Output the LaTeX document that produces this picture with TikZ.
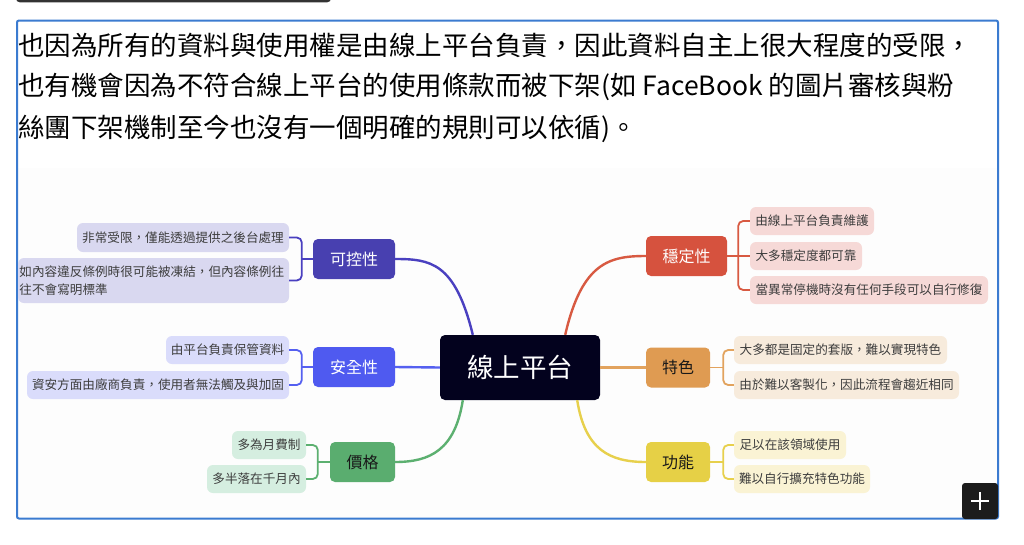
\documentclass[tikz,border=0pt]{standalone}
\usepackage{fontspec}
\setmainfont{Noto Sans CJK TC}
\usetikzlibrary{calc}
\definecolor{frameblue}{HTML}{3B7BD0}
\definecolor{centerfill}{HTML}{03021E}
\definecolor{leaftext}{HTML}{3D3D3D}
\definecolor{kkfill}{HTML}{4840B0}\definecolor{kkline}{HTML}{4A40C0}\definecolor{kkleaf}{HTML}{D9D8F0}
\definecolor{aqfill}{HTML}{4F5AF0}\definecolor{aqline}{HTML}{5560F0}\definecolor{aqleaf}{HTML}{DADCFB}
\definecolor{prfill}{HTML}{5AAD6F}\definecolor{prline}{HTML}{5CB070}\definecolor{prleaf}{HTML}{D5EEE0}
\definecolor{stfill}{HTML}{D6523E}\definecolor{stline}{HTML}{D85A42}\definecolor{stleaf}{HTML}{F6D9D7}
\definecolor{tsfill}{HTML}{DF9B52}\definecolor{tsline}{HTML}{E2A35E}\definecolor{tsleaf}{HTML}{F7EBDC}
\definecolor{fnfill}{HTML}{E6D046}\definecolor{fnline}{HTML}{E7D04C}\definecolor{fnleaf}{HTML}{FAF3D4}
\begin{document}
\begin{tikzpicture}[x=1pt,y=-1pt,
  para/.style={anchor=west,inner sep=0pt,text=black,font=\fontsize{26.5}{30}\selectfont},
  mainnode/.style={rounded corners=5pt,inner sep=0pt,minimum height=40pt,font=\fontsize{16}{18}\selectfont},
  leaf/.style={rounded corners=6pt,inner sep=0pt,minimum height=28pt,text=leaftext,font=\fontsize{12.6}{18}\selectfont},
  branch/.style={line width=2.4pt},
  brk/.style={line width=1.8pt,rounded corners=5pt}]
\useasboundingbox (0,0) rectangle (1024,544);
\fill[white] (0,0) rectangle (1024,544);
% top bar remnant
\draw[line width=2.2pt,black!80,rounded corners=3pt] (17,-8) -- (17,1.2) -- (330,1.2) -- (330,-8);
% mindmap background
\fill[black!0.8] (18,168) rectangle (997,517);
% frame
\draw[frameblue,line width=2pt,rounded corners=2pt] (17,20.5) rectangle (998,518.5);
% paragraph
\node[para] (l1) at (18,45) {也因為所有的資料與使用權是由線上平台負責，因此資料自主上很大程度的受限，};
\node[para] (l2) at (18,86.5) {也有機會因為不符合線上平台的使用條款而被下架(如 FaceBook 的圖片審核與粉};
\node[para] (l3) at (18,129) {絲團下架機制至今也沒有一個明確的規則可以依循)。};
% center
\node[rounded corners=5pt,fill=centerfill,text=white,minimum width=160pt,minimum height=65pt,inner sep=0pt,font=\fontsize{26.5}{30}\selectfont] (c) at (520,367.5) {線上平台};
% main nodes
\node[mainnode,fill=kkfill,text=white,minimum width=82pt] (kk) at (354,259) {可控性};
\node[mainnode,fill=aqfill,text=white,minimum width=82pt] (aq) at (354,367) {安全性};
\node[mainnode,fill=prfill,text=black!90,minimum width=65pt] (pr) at (362.5,462) {價格};
\node[mainnode,fill=stfill,text=white,minimum width=81pt] (st) at (686.5,256) {穩定性};
\node[mainnode,fill=tsfill,text=black!90,minimum width=64pt] (ts) at (678,367.5) {特色};
\node[mainnode,fill=fnfill,text=black!90,minimum width=64pt] (fn) at (678,462) {功能};
% leaves
\node[leaf,fill=kkleaf,minimum width=212pt,minimum height=29pt] (k1) at (183,237.5) {非常受限，僅能透過提供之後台處理};
\node[leaf,fill=kkleaf,minimum width=271pt,minimum height=45pt,text width=268pt,align=left] (k2) at (153.5,280.5) {如內容違反條例時很可能被凍結，但內容條例往\\往不會寫明標準};
\node[leaf,fill=aqleaf,minimum width=123pt] (a1) at (227.5,350) {由平台負責保管資料};
\node[leaf,fill=aqleaf,minimum width=262pt] (a2) at (158,385) {資安方面由廠商負責，使用者無法觸及與加固};
\node[leaf,fill=prleaf,minimum width=74pt] (p1) at (269,445) {多為月費制};
\node[leaf,fill=prleaf,minimum width=99pt] (p2) at (256.5,479) {多半落在千月內};
\node[leaf,fill=stleaf,minimum width=124pt] (s1) at (812,221) {由線上平台負責維護};
\node[leaf,fill=stleaf,minimum width=112pt] (s2) at (806,256) {大多穩定度都可靠};
\node[leaf,fill=stleaf,minimum width=238pt] (s3) at (869,290) {當異常停機時沒有任何手段可以自行修復};
\node[leaf,fill=tsleaf,minimum width=213pt] (t1) at (840.5,350) {大多都是固定的套版，難以實現特色};
\node[leaf,fill=tsleaf,minimum width=225pt] (t2) at (846.5,385) {由於難以客製化，因此流程會趨近相同};
\node[leaf,fill=fnleaf,minimum width=112pt] (f1) at (790,445) {足以在該領域使用};
\node[leaf,fill=fnleaf,minimum width=136pt] (f2) at (802,479) {難以自行擴充特色功能};
% main branches
\draw[branch,kkline] ([xshift=33pt]c.north west) .. controls (455,262) and (430,259) .. (kk.east);
\draw[branch,aqline] (c.west) -- (aq.east);
\draw[branch,prline] ([xshift=23pt]c.south west) .. controls (455,450) and (430,462) .. (pr.east);
\draw[branch,stline] ([xshift=-35pt]c.north east) .. controls (582,262) and (610,256) .. (st.west);
\draw[branch,tsline] (c.east) -- (ts.west);
\draw[branch,fnline] ([xshift=-23pt]c.south east) .. controls (585,450) and (610,462) .. (fn.west);
% brackets
\draw[brk,kkline] (k1.east) -| ([xshift=-11pt]kk.west) |- (k2.east);
\draw[brk,kkline] (kk.west) -- ([xshift=-11pt]kk.west);
\draw[brk,aqline] (a1.east) -| ([xshift=-11pt]aq.west) |- (a2.east);
\draw[brk,aqline] (aq.west) -- ([xshift=-11pt]aq.west);
\draw[brk,prline] (p1.east) -| ([xshift=-12pt]pr.west) |- (p2.east);
\draw[brk,prline] (pr.west) -- ([xshift=-12pt]pr.west);
\draw[brk,stline] (s1.west) -| ([xshift=11pt]st.east) |- (s3.west);
\draw[brk,stline] (st.east) -- (s2.west);
\draw[brk,tsline] (t1.west) -| ([xshift=13pt]ts.east) |- (t2.west);
\draw[brk,tsline] (ts.east) -- ([xshift=13pt]ts.east);
\draw[brk,fnline] (f1.west) -| ([xshift=13pt]fn.east) |- (f2.west);
\draw[brk,fnline] (fn.east) -- ([xshift=13pt]fn.east);
% plus button
\node[fill=black!89,rounded corners=3pt,minimum size=36pt,inner sep=0pt] (plus) at (980,501) {};
\draw[white,line width=2pt] ([xshift=-9pt]plus.center) -- ([xshift=9pt]plus.center);
\draw[white,line width=2pt] ([yshift=-9pt]plus.center) -- ([yshift=9pt]plus.center);
\end{tikzpicture}
\end{document}
